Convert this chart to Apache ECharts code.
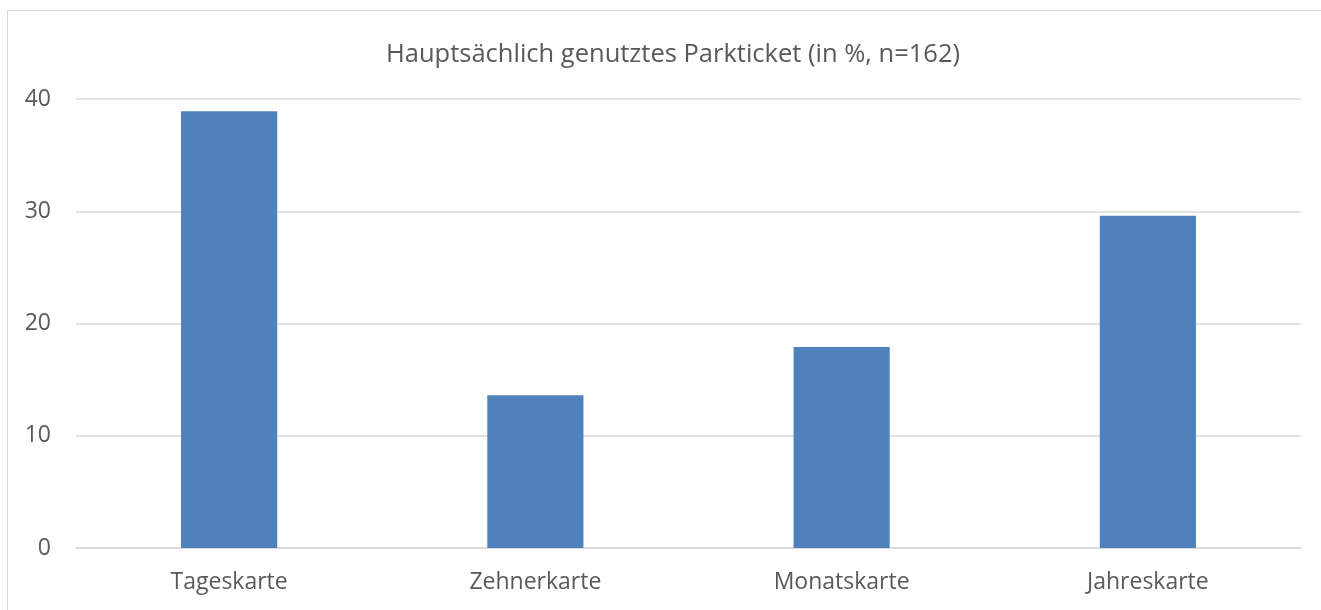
<!DOCTYPE html>
<html>
<head>
<meta charset="utf-8">
<script src="https://cdn.jsdelivr.net/npm/echarts@6/dist/echarts.min.js"></script>
<style>
  html, body { margin: 0; padding: 0; background: #fff; overflow: hidden; }
  #chart { width: 1321px; height: 610px; }
  #frame { position: absolute; left: 7px; top: 10px; width: 1400px; height: 700px; border: 1px solid #d9d9d9; pointer-events: none; }
</style>
</head>
<body>
<div id="chart"></div>
<div id="frame"></div>
<script>
const titleText = 'Hauptsächlich genutztes Parkticket (in %, n=162)'
const categories = ['Tageskarte', 'Zehnerkarte', 'Monatskarte', 'Jahreskarte']
const shares = [38.9, 13.6, 17.9, 29.6]

const textColor = '#595959'
const fontFamily = '"Open Sans", "Noto Sans", sans-serif'

const chart = echarts.init(document.getElementById('chart'))
chart.setOption({
  animation: false,
  title: {
    text: titleText,
    left: 668,
    top: 37,
    textAlign: 'center',
    textStyle: { color: textColor, fontSize: 25.5, fontWeight: 'normal', fontFamily }
  },
  grid: { left: 76, right: 20, top: 99, bottom: 62 },
  xAxis: {
    type: 'category',
    data: categories,
    axisLine: { lineStyle: { color: '#d9d9d9', width: 1.5 } },
    axisTick: { show: false },
    axisLabel: { color: textColor, fontSize: 23, fontFamily, margin: 23 }
  },
  yAxis: {
    type: 'value',
    min: 0,
    max: 40,
    interval: 10,
    axisLine: { show: false },
    axisTick: { show: false },
    splitLine: { lineStyle: { color: '#d9d9d9', width: 1.5 } },
    axisLabel: { color: textColor, fontSize: 23, fontFamily, margin: 25 }
  },
  series: [{
    type: 'bar',
    data: shares,
    barCategoryGap: '68.6%',
    itemStyle: { color: '#4f81bd' }
  }]
})
</script>
</body>
</html>
